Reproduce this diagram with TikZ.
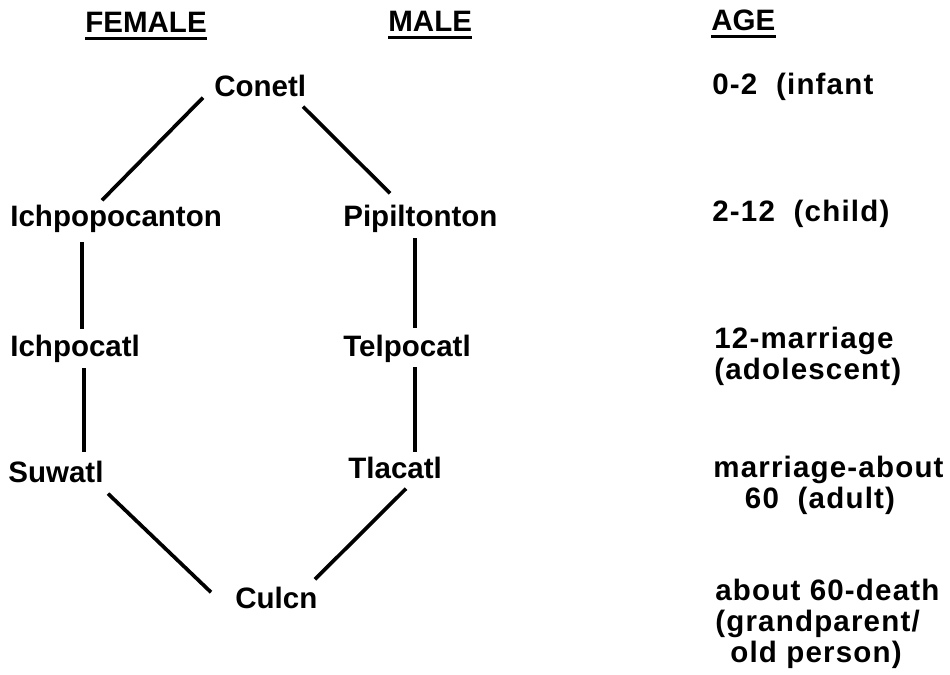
\documentclass[tikz,border=0pt]{standalone}
\usepackage{fontspec}
\setmainfont{Liberation Sans}
\newfontfamily\agefont[LetterSpace=4]{Liberation Sans}
\begin{document}
\begin{tikzpicture}[x=0.02cm,y=-0.02cm,
  lbl/.style={inner sep=0pt,anchor=base west,font=\bfseries\fontsize{16.8}{17.6}\selectfont},
  agelbl/.style={lbl,align=left,font=\agefont\bfseries\fontsize{16.8}{17.6}\selectfont},
  conn/.style={line width=2.1pt},
  uline/.style={line width=1.4pt}]
\useasboundingbox (0,0) rectangle (950,675);
% headers
\node[lbl] (fem) at (85,33) {FEMALE};
\node[lbl] (mal) at (388,32) {MALE};
\node[lbl] (age) at (711,31) {AGE};
\draw[uline] ([shift={(0,5)}]fem.south west) -- ([shift={(0,5)}]fem.south east);
\draw[uline] ([shift={(0,5)}]mal.south west) -- ([shift={(0,5)}]mal.south east);
\draw[uline] ([shift={(0,5)}]age.south west) -- ([shift={(0,5)}]age.south east);
% stages
\node[lbl] (conetl) at (214,97) {Conetl};
\node[lbl] (ichpo) at (10,227) {Ichpopocanton};
\node[lbl] (pip) at (343,227) {Pipiltonton};
\node[lbl] (ichpocatl) at (10,357) {Ichpocatl};
\node[lbl] (telp) at (343,357) {Telpocatl};
\node[lbl] (suwatl) at (8,482) {Suwatl};
\node[lbl] (tlac) at (348,479) {Tlacatl};
\node[lbl] (culcn) at (235,608) {Culcn};
% connectors
\draw[conn] ([shift={(-11,0)}]conetl.south west) -- ([shift={(92,-5)}]ichpo.north west);
\draw[conn] ([shift={(89,9)}]conetl.south west) -- ([shift={(47,-12)}]pip.north west);
\draw[conn] ([shift={(72,9)}]ichpo.south west) -- ([shift={(72,-6)}]ichpocatl.north west);
\draw[conn] ([shift={(74,5)}]ichpocatl.south west) -- ([shift={(76,-8)}]suwatl.north west);
\draw[conn] ([shift={(72,5)}]pip.south west) -- ([shift={(72,-7)}]telp.north west);
\draw[conn] ([shift={(72,4)}]telp.south west) -- ([shift={(67,-5)}]tlac.north west);
\draw[conn] ([shift={(100,11)}]suwatl.south west) -- ([shift={(-24,6)}]culcn.north west);
\draw[conn] ([shift={(58,9)}]tlac.south west) -- ([shift={(80,-7)}]culcn.north west);
% ages
\node[agelbl] (a1) at (712,95) {0-2 \ (infant};
\node[agelbl] (a2) at (712,222) {2-12 \ (child)};
\node[agelbl] (a3) at (714,379) {12-marriage\\(adolescent)};
\node[agelbl] (a4) at (713,508) {marriage-about\\\hspace*{18pt}60 \ (adult)};
\node[agelbl] (a5) at (715,662) {about 60-death\\(grandparent/\\\hspace*{8.5pt}old person)};
\end{tikzpicture}
\end{document}
